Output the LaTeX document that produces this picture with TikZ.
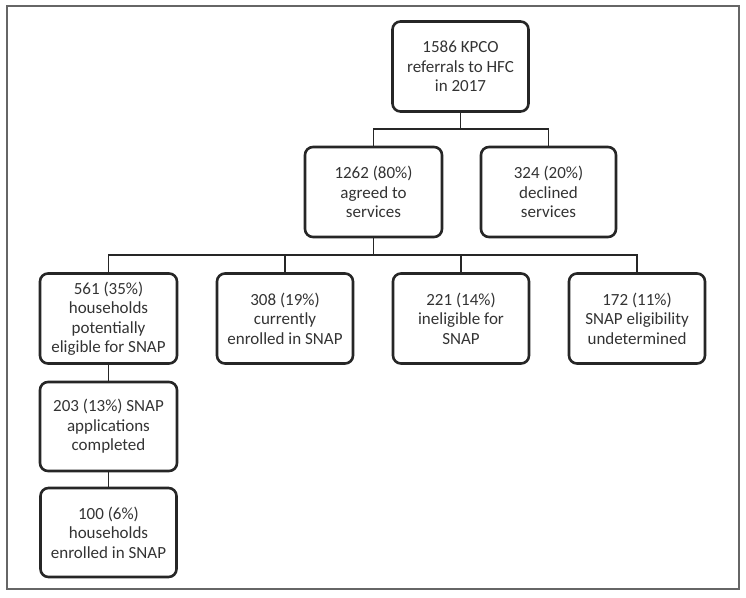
\documentclass[tikz,border=0pt]{standalone}
\usepackage{fontspec}
\setmainfont{Carlito}
\begin{document}
\begin{tikzpicture}[x=1pt,y=-1pt,
  box/.style={draw=black!85, line width=2.6pt, rounded corners=8pt, minimum width=136pt, minimum height=90pt, inner sep=0pt, align=center, font=\fontsize{17}{19.5}\selectfont, text=black!80},
  conn/.style={draw=black!85, line width=1.8pt}]
\useasboundingbox (0,0) rectangle (746,597);
\draw[black!60, line width=2pt] (7,6) rectangle (738.5,588.5);
\node[box] (top) at (460.5,66.5) {1586 KPCO\\referrals to HFC\\in 2017};
\node[box, minimum width=137pt] (n1) at (373.5,192) {1262 (80\%)\\agreed to\\services};
\node[box, minimum width=135pt] (n2) at (548.5,192) {324 (20\%)\\declined\\services};
\node[box, minimum width=137pt] (A) at (108.5,318.5) {561 (35\%)\\households\\potentially\\eligible for SNAP};
\node[box] (B) at (285,318.5) {308 (19\%)\\currently\\enrolled in SNAP};
\node[box] (C) at (461,318.5) {221 (14\%)\\ineligible for\\SNAP};
\node[box] (D) at (637,318.5) {172 (11\%)\\SNAP eligibility\\undetermined};
\node[box, minimum width=137pt, minimum height=89pt] (E) at (108.5,426.5) {203 (13\%) SNAP\\applications\\completed};
\node[box, minimum height=89pt] (F) at (108.5,532.5) {100 (6\%)\\households\\enrolled in SNAP};
\coordinate (j1) at (461,129);
\coordinate (j2) at (373.5,255);
\draw[conn] (top.south) -- (top.south |- j1);
\draw[conn] (n1.north) |- (j1) -| (n2.north);
\draw[conn] (n1.south) -- (j2);
\draw[conn] (A.north) |- (j2) -| (D.north);
\draw[conn] (B.north) -- (B.north |- j2);
\draw[conn] (C.north) -- (C.north |- j2);
\draw[conn] (A.south) -- (E.north);
\draw[conn] (E.south) -- (F.north);
\end{tikzpicture}
\end{document}
